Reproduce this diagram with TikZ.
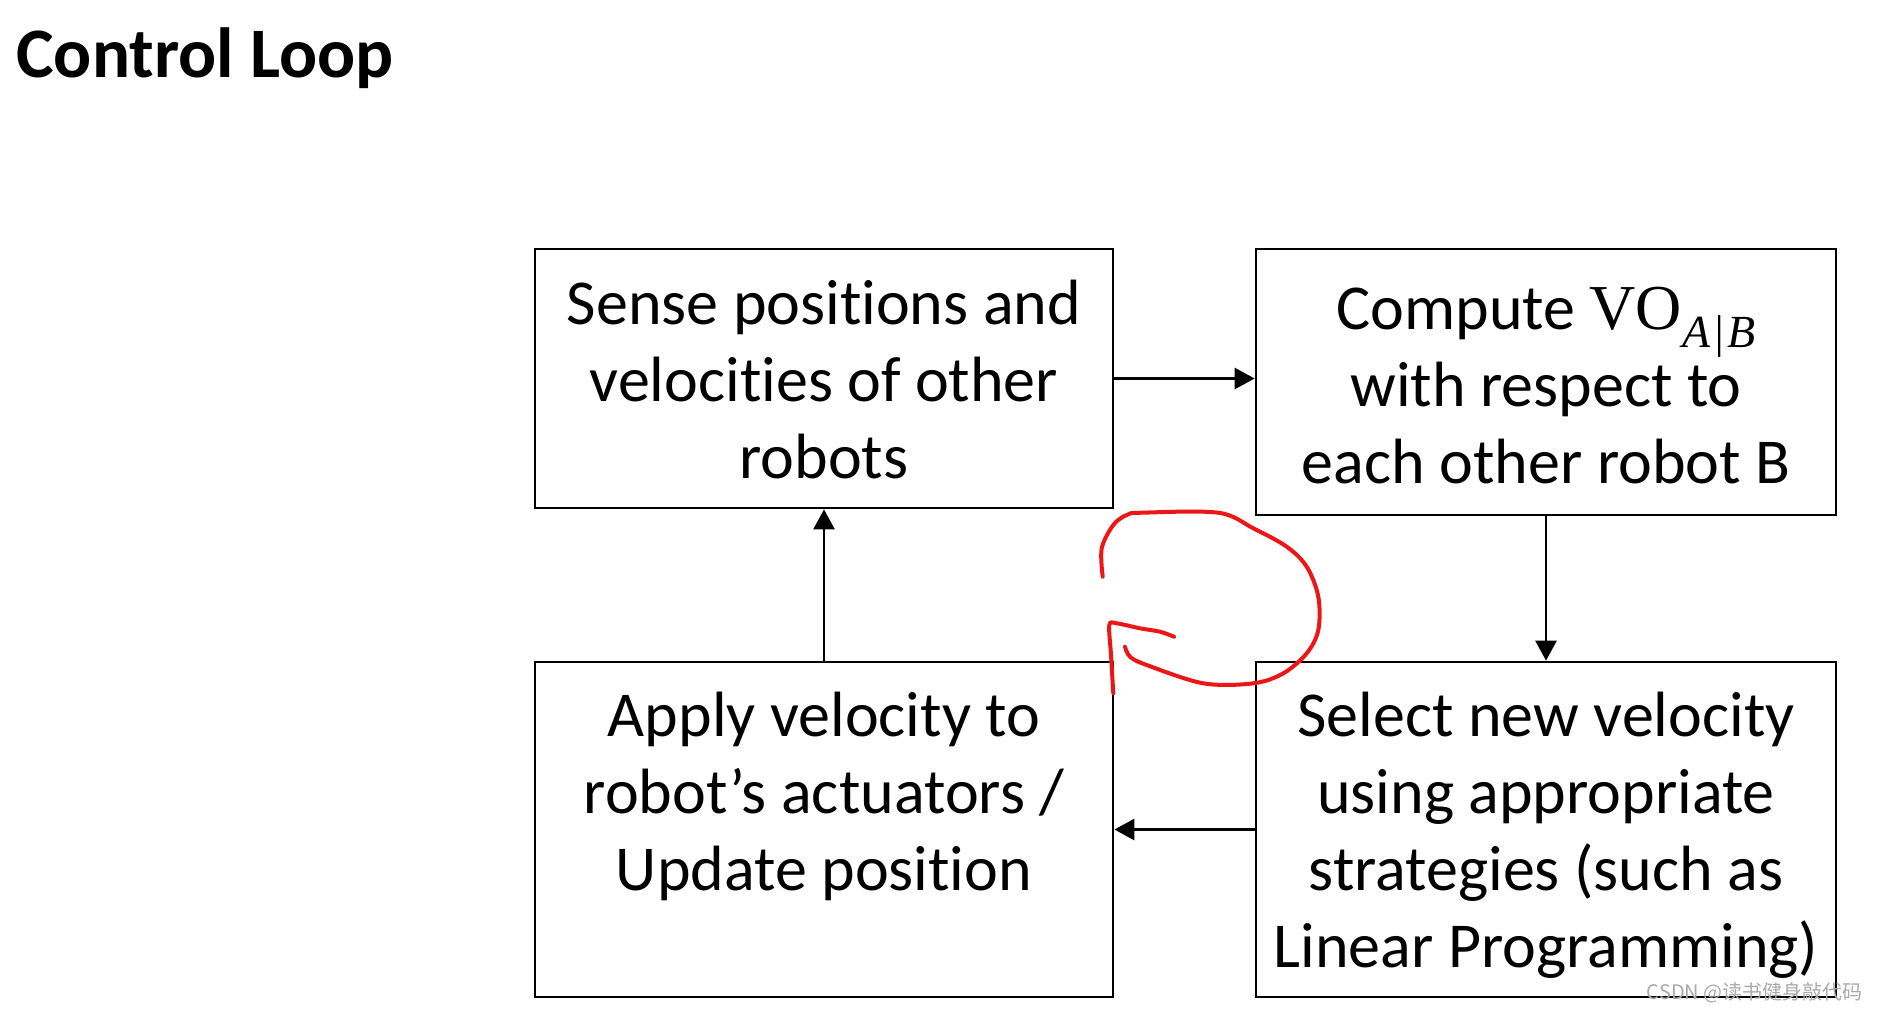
\documentclass[tikz,border=0pt]{standalone}
\usepackage{fontspec}
\setmainfont{Carlito}[Ligatures=NoCommon, Contextuals=NoAlternate]
\newfontfamily\cjkfont{Noto Sans CJK SC}
\newfontfamily\vofont{Liberation Serif}
\usetikzlibrary{arrows.meta}
\definecolor{penred}{RGB}{236,22,22}
\definecolor{wmgray}{RGB}{170,170,170}
\tikzset{
  stepbox/.style={draw=black, line width=1.4pt, inner sep=0pt},
  boxtext/.style={inner sep=0pt, align=center, font=\fontsize{32pt}{38.5pt}\selectfont},
  arr/.style={draw=black, line width=1.4pt, -{Triangle[length=10pt,width=10.5pt]}},
  pen/.style={draw=penred, line width=2pt, line cap=round, line join=round}
}
\newcommand{\VOab}{{\vofont VO}\raisebox{-0.28em}{\fontsize{23pt}{23pt}\selectfont\vofont\itshape A\kern0.05em|\kern0.05em B}}
\begin{document}
\begin{tikzpicture}[x=0.5pt,y=-0.5pt]
\useasboundingbox[fill=white] (0,0) rectangle (1877,1013);

\node[anchor=base west, inner sep=0pt, font=\fontsize{35.5pt}{42pt}\selectfont\bfseries] (title) at (16,77) {Control Loop};

\node[stepbox, minimum width=289pt, minimum height=129.5pt] (sense) at (824,378.5) {};
\node[stepbox, minimum width=290pt, minimum height=133pt] (compute) at (1546,382) {};
\node[stepbox, minimum width=289pt, minimum height=167.5pt] (apply) at (824,829.5) {};
\node[stepbox, minimum width=290pt, minimum height=167.5pt] (select) at (1546,829.5) {};

\node[boxtext] (sensetext) at ([yshift=-0.5pt]sense.center)
  {Sense positions and\\ velocities of other\\ robots};
\node[boxtext] (computetext) at ([yshift=-2pt]compute.center)
  {Compute \VOab\\ with respect to\\ each other robot B};
\node[boxtext, anchor=north] (applytext) at ([yshift=-15.5pt]apply.north)
  {Apply velocity to\\ robot’s actuators /\\ Update position};
\node[boxtext, anchor=north] (selecttext) at ([yshift=-15.5pt]select.north)
  {Select new velocity\\ using appropriate\\ strategies (such as\\ Linear Programming)};

\draw[arr] (sense.east) -- (sense.east -| compute.west);
\draw[arr] (compute.south) -- (compute.south |- select.north);
\draw[arr] (select.west) -- (apply.east);
\draw[arr] (apply.north) -- (sense.south);

% hand-drawn red loop
\draw[pen] plot[smooth, tension=0.55] coordinates {
  (1102.7,576.7) (1101.7,548.3) (1113.3,525) (1126.7,515) (1141.7,512.7)
  (1218.3,512.7) (1253.3,528.3) (1286.7,546.7) (1306.7,566.7) (1318.3,596.7)
  (1318.3,630) (1306.7,653.3) (1283.3,673.3) (1253.3,683.3) (1203.3,683.3)
  (1146.7,665) (1130,656.7) (1125,646.7)};
\draw[pen] plot[smooth, tension=0.5] coordinates {
  (1113.3,693.3) (1111,655) (1109.3,625) (1116.7,623.3) (1140,628.3)
  (1160,631.7) (1174,636.7)};

\node[anchor=east, inner sep=0pt, text=wmgray, font=\cjkfont\fontsize{10pt}{12pt}\selectfont] (wm) at (1863,993) {CSDN @读书健身敲代码};
\end{tikzpicture}
\end{document}
